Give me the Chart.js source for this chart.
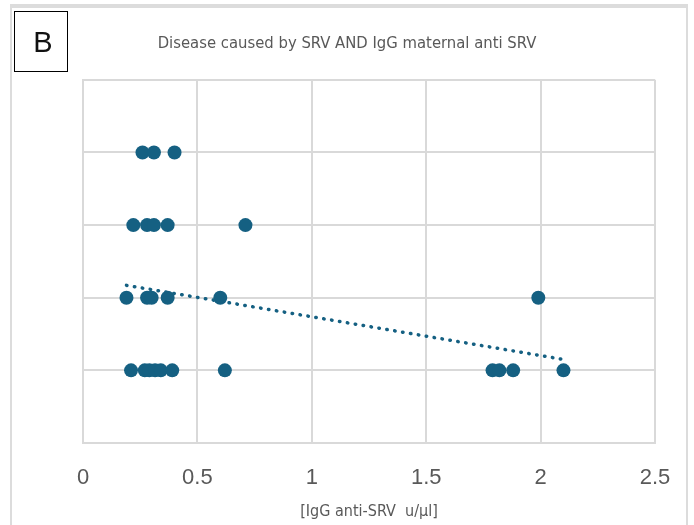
<!DOCTYPE html>
<html>
<head>
<meta charset="utf-8">
<script src="https://cdn.jsdelivr.net/npm/chart.js@4"></script>
<style>
html,body{margin:0;padding:0;background:#fff;}
#wrap{width:694px;height:525px;position:relative;}
</style>
</head>
<body>
<div id="wrap"><canvas id="c" width="694" height="525"></canvas></div>
<script>
// Data
const xTicks = [0, 0.5, 1, 1.5, 2, 2.5];
const level4X = [0.26, 0.31, 0.40];
const level3X = [0.22, 0.28, 0.31, 0.37, 0.71];
const level2X = [0.19, 0.28, 0.30, 0.37, 0.60, 1.99];
const level1X = [0.21, 0.27, 0.29, 0.315, 0.34, 0.39, 0.62, 1.79, 1.82, 1.88, 2.10];
const trendX = [0.19, 2.10];
const trendY = [2.17, 1.15];

const titleText = 'Disease caused by SRV AND IgG maternal anti SRV';
const xTitle = '[IgG anti-SRV  u/µl]';
const panelLabel = 'B';

const COLOR = '#156082';
const GRID = '#d9d9d9';
const TEXT = '#595959';
const NARROW = "'Liberation Sans Narrow','Arial Narrow','DejaVu Sans Condensed',sans-serif";

function pts(xs, y){ return xs.map(x => ({x: x, y: y})); }
const scatterData = [].concat(pts(level4X,4), pts(level3X,3), pts(level2X,2), pts(level1X,1));
const trendData = trendX.map((x,i) => ({x: x, y: trendY[i]}));

const decor = {
  id: 'decor',
  beforeDraw(chart){
    const ctx = chart.ctx;
    ctx.save();
    ctx.fillStyle = '#fff';
    ctx.fillRect(0,0,chart.width,chart.height);
    ctx.fillStyle = '#dcdcdc';
    ctx.fillRect(10,4,678,4);
    ctx.fillRect(10,4,2,521);
    ctx.fillRect(686,4,2,521);
    ctx.restore();
  },
  afterDraw(chart){
    const ctx = chart.ctx;
    ctx.save();
    ctx.strokeStyle = '#000';
    ctx.lineWidth = 1;
    ctx.strokeRect(14.5, 11.5, 53, 60);
    ctx.fillStyle = '#111';
    ctx.font = "29px 'Liberation Sans', Arial, sans-serif";
    ctx.textAlign = 'center';
    ctx.textBaseline = 'middle';
    ctx.fillText(panelLabel, 43, 44);
    ctx.restore();
  }
};

new Chart(document.getElementById('c'), {
  type: 'scatter',
  data: {
    datasets: [
      {
        label: 'data',
        data: scatterData,
        backgroundColor: COLOR,
        borderColor: COLOR,
        borderWidth: 0,
        pointRadius: 7,
        pointHoverRadius: 7,
        order: 2
      },
      {
        label: 'trend',
        type: 'line',
        data: trendData,
        borderColor: COLOR,
        borderWidth: 3.5,
        borderDash: [0.5, 7.5],
        borderCapStyle: 'round',
        pointRadius: 0,
        fill: false,
        tension: 0,
        order: 1
      }
    ]
  },
  options: {
    responsive: false,
    animation: false,
    devicePixelRatio: 1,
    layout: { padding: 0 },
    plugins: {
      legend: { display: false },
      tooltip: { enabled: false },
      title: {
        display: true,
        text: titleText,
        color: TEXT,
        font: { family: NARROW, size: 16.5, weight: 'normal', lineHeight: 1.2 },
        padding: { top: 34, bottom: 26 }
      }
    },
    scales: {
      x: {
        type: 'linear',
        min: 0, max: 2.5,
        afterBuildTicks(scale){ scale.ticks = xTicks.map(v => ({value: v})); },
        ticks: {
          color: TEXT,
          padding: 22,
          maxRotation: 0,
          font: { family: "'Liberation Sans', Arial, sans-serif", size: 22, lineHeight: 1.2 },
          callback: v => String(v)
        },
        grid: { color: GRID, lineWidth: 2, drawTicks: false },
        border: { display: true, color: GRID, width: 2 },
        title: {
          display: true,
          text: xTitle,
          color: TEXT,
          font: { family: NARROW, size: 16, lineHeight: 1.2 },
          padding: { top: 12, bottom: 4 }
        },
        afterFit(scale){ scale.height = 82; }
      },
      y: {
        type: 'linear',
        min: 0, max: 5,
        ticks: { display: false, stepSize: 1 },
        grid: { color: GRID, lineWidth: 2, drawTicks: false },
        border: { display: true, color: GRID, width: 2 },
        afterFit(scale){ scale.width = 83; }
      },
      y2: {
        type: 'linear',
        position: 'right',
        display: true,
        ticks: { display: false },
        grid: { display: false, drawTicks: false },
        border: { display: false },
        afterFit(scale){ scale.width = 39; }
      }
    }
  },
  plugins: [decor]
});
</script>
</body>
</html>
